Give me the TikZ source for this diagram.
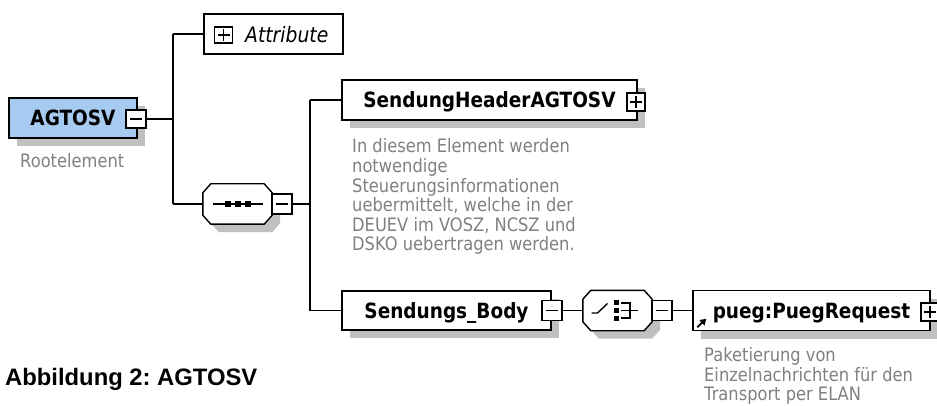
\documentclass[tikz,border=0pt]{standalone}
\usepackage{fontspec}
\setmainfont{DejaVu Sans}[FakeStretch=0.88]
\newfontfamily\capfont{Liberation Sans}
\usetikzlibrary{arrows.meta}
\definecolor{rootblue}{RGB}{166,202,240}
\definecolor{descgray}{RGB}{128,128,128}
\definecolor{shadowgray}{RGB}{192,192,192}
\frenchspacing
\begin{document}
\begin{tikzpicture}[x=1pt,y=-1pt,
  conn/.style={line width=1.4pt},
  shadowed/.style={preaction={fill=shadowgray, transform canvas={shift={(8pt,-8pt)}}}},
  elem/.style={draw, line width=1.4pt, fill=white, inner sep=0pt, minimum height=40pt,
    font=\fontsize{21}{25}\selectfont\bfseries, text height=15.3pt, text depth=0pt, shadowed},
  plainbox/.style={inner sep=0pt, minimum height=40pt, minimum width=69pt},
  expbox/.style={draw, line width=1.4pt, fill=white, inner sep=0pt, minimum width=18pt, minimum height=18pt},
  minusbox/.style={expbox, path picture={\draw[line width=1.4pt] ([xshift=-6pt]path picture bounding box.center) -- ([xshift=6pt]path picture bounding box.center);}},
  plusbox/.style={expbox, path picture={\draw[line width=1.4pt] ([xshift=-6pt]path picture bounding box.center) -- ([xshift=6pt]path picture bounding box.center) ([yshift=-6pt]path picture bounding box.center) -- ([yshift=6pt]path picture bounding box.center);}},
  desc/.style={inner sep=0pt, anchor=base west, text=descgray, font=\fontsize{18.5}{20}\selectfont},
  icon/.style={line width=1.4pt},
]
\useasboundingbox (0,0) rectangle (937,406);

% root element
\node[elem, fill=rootblue, minimum width=128pt] (root) at (73,118) {AGTOSV};
\node[minusbox, minimum width=20pt] (rootm) at (136,119) {};
\node[desc] (roottxt) at (20,168) {Rootelement};

% attribute box
\node[draw, line width=1.4pt, fill=white, minimum width=139pt, minimum height=40pt, inner sep=0pt] (attr) at (273.5,34) {};
\node[plusbox, minimum width=18pt, minimum height=16pt] (attrp) at (223.5,35) {};
\node[inner sep=0pt, anchor=base west, font=\fontsize{21.3}{25}\selectfont\itshape] (attrtxt) at (245,43) {Attribute};

% compositors
\node[plainbox] (seq) at (237.5,204) {};
\node[plainbox] (cho) at (617.5,310.5) {};
\foreach \n in {seq,cho}{
  \filldraw[line width=1.4pt, fill=white, shadowed]
    ([xshift=8pt]\n.north west) -- ([xshift=-8pt]\n.north east) -- ([yshift=-9pt]\n.north east)
    -- ([yshift=9pt]\n.south east) -- ([xshift=-8pt]\n.south east) -- ([xshift=8pt]\n.south west)
    -- ([yshift=9pt]\n.south west) -- ([yshift=-9pt]\n.north west) -- cycle;
}
\draw[icon] ([xshift=-24.5pt]seq.center) -- ([xshift=25.5pt]seq.center);
\foreach \dx in {-9.5,0.5,10.5}
  \fill ([shift={(\dx-2.75,-2.75)}]seq.center) rectangle ([shift={(\dx+2.75,2.75)}]seq.center);
\node[minusbox, minimum width=20pt, minimum height=20pt] (seqm) at (282,204) {};

% choice icon
\draw[icon] ([shift={(-26,2.5)}]cho.center) -- ([shift={(-20,2.5)}]cho.center) -- ([shift={(-10,-7)}]cho.center);
\foreach \dy in {-8,0,8}
  \fill ([shift={(-3.5,\dy-2.4)}]cho.center) rectangle ([shift={(1.5,\dy+2.4)}]cho.center);
\draw[icon] ([shift={(3,-7.5)}]cho.center) -- ([shift={(12.5,-7.5)}]cho.center) -- ([shift={(12.5,7.5)}]cho.center) -- ([shift={(3,7.5)}]cho.center)
  ([shift={(3,0)}]cho.center) -- ([shift={(20,0)}]cho.center);
\node[minusbox, minimum width=20pt, minimum height=20pt] (chom) at (662,310.5) {};

% header element
\node[elem, minimum width=295pt] (hdr) at (489.5,100) {SendungHeaderAGTOSV};
\node[plusbox] (hdrp) at (636,102) {};
\foreach \t [count=\i] in {In diesem Element werden, notwendige, Steuerungsinformationen, {uebermittelt, welche in der}, {DEUEV im VOSZ, NCSZ und}, DSKO uebertragen werden.}
  \node[desc] (hd\i) at (352,{153+19.6*(\i-1)}) {\t};

% body element
\node[elem, minimum width=209pt, minimum height=39pt] (body) at (446.5,310.5) {Sendungs\_Body};
\node[minusbox, minimum width=20pt, minimum height=20pt] (bodym) at (552,310.5) {};

% pueg element
\node[elem, minimum width=237pt] (pueg) at (811.5,310.5) {pueg:PuegRequest};
\node[plusbox] (puegp) at (930,312) {};
\draw[line width=1.8pt, -{Triangle[length=6pt,width=7pt]}] ([shift={(5,-4)}]pueg.south west) -- ([shift={(14,-12.5)}]pueg.south west);
\foreach \t [count=\i] in {Paketierung von, Einzelnachrichten für den, Transport per ELAN}
  \node[desc] (pd\i) at (704,{361.5+19.6*(\i-1)}) {\t};

% connectors
\coordinate (b1t) at (173,34);
\coordinate (b1b) at (173,204);
\draw[conn] (rootm.east) -- (rootm.east -| b1t);
\draw[conn] (b1t) -- (b1b);
\draw[conn] (b1t) -- (attr.west);
\draw[conn] (b1b) -- (seq.west);
\coordinate (b2t) at (310,100);
\coordinate (b2b) at (310,310.5);
\draw[conn] (seqm.east) -- (seqm.east -| b2t);
\draw[conn] (b2t) -- (b2b);
\draw[conn] (b2t) -- (hdr.west);
\draw[conn] (b2b) -- (body.west);
\draw[conn] (bodym.east) -- (cho.west);
\draw[conn] (chom.east) -- (pueg.west);

% caption
\node[inner sep=0pt, anchor=base west, font=\capfont\fontsize{23.8}{28}\selectfont\bfseries] (cap) at (5,385) {Abbildung 2: AGTOSV};
\end{tikzpicture}
\end{document}
